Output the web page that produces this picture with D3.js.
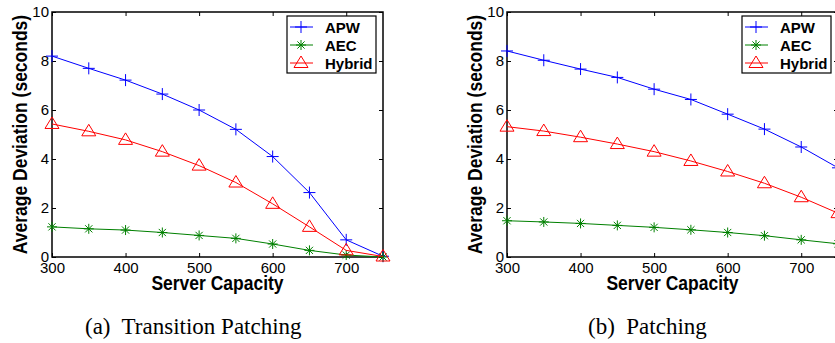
<!DOCTYPE html>
<html>
<head>
<meta charset="utf-8">
<script src="https://cdn.jsdelivr.net/npm/d3@7"></script>
<style>
  body { margin: 0; background: #fff; }
  svg { display: block; }
  .tick text { font-family: "Liberation Sans", Arial, sans-serif; font-size: 15px; fill: #000; }
</style>
</head>
<body>
<svg id="chart" width="835" height="343"></svg>
<script>
const capacity = [300, 350, 400, 450, 500, 550, 600, 650, 700, 750];
const xTicks = [300, 400, 500, 600, 700];
const yTicks = [0, 2, 4, 6, 8, 10];

// (a) transition patching
const apwTransition    = [8.2, 7.7, 7.22, 6.65, 6.0, 5.21, 4.1, 2.63, 0.7, 0.03];
const aecTransition    = [1.23, 1.15, 1.1, 1.0, 0.88, 0.76, 0.53, 0.27, 0.08, 0.0];
const hybridTransition = [5.43, 5.13, 4.78, 4.3, 3.73, 3.04, 2.17, 1.23, 0.27, 0.02];

// (b) patching
const apwPatching    = [8.41, 8.03, 7.67, 7.33, 6.85, 6.43, 5.83, 5.22, 4.49, 3.64];
const aecPatching    = [1.48, 1.43, 1.37, 1.29, 1.21, 1.11, 1.0, 0.87, 0.7, 0.54];
const hybridPatching = [5.32, 5.14, 4.89, 4.61, 4.3, 3.92, 3.49, 3.01, 2.44, 1.79];

const seriesNames = ['APW', 'AEC', 'Hybrid'];
const colors = { APW: '#0000ff', AEC: '#008000', Hybrid: '#ff0000' };
const symbols = { APW: 'plus', AEC: 'star', Hybrid: 'tri' };

const svg = d3.select('#chart');
const font = '"Liberation Sans", Arial, sans-serif';

function markerPath(kind) {
  if (kind === 'plus') return 'M-6,0H6M0,-6V6';
  if (kind === 'star') return 'M-5,0H5M0,-5V5M-3.6,-3.6L3.6,3.6M-3.6,3.6L3.6,-3.6';
  return 'M0,-7L7,4.5H-7Z';
}

function drawPanel(left, series, caption, captionX) {
  const top = 12, bottom = 257, width = 331;
  const x = d3.scaleLinear().domain([300, 750]).range([left, left + width]);
  const y = d3.scaleLinear().domain([0, 10]).range([bottom, top]);
  const g = svg.append('g');

  g.append('g')
    .attr('transform', 'translate(0,' + bottom + ')')
    .call(d3.axisBottom(x).tickValues(xTicks).tickSizeInner(-4).tickSizeOuter(0).tickPadding(5))
    .call(a => a.select('.domain').remove());
  g.append('g')
    .attr('transform', 'translate(0,' + top + ')')
    .call(d3.axisTop(x).tickValues(xTicks).tickSizeInner(-4).tickSizeOuter(0).tickFormat(''))
    .call(a => a.select('.domain').remove());
  g.append('g')
    .attr('transform', 'translate(' + left + ',0)')
    .call(d3.axisLeft(y).tickValues(yTicks).tickSizeInner(-4).tickSizeOuter(0).tickPadding(3))
    .call(a => a.select('.domain').remove());
  g.append('g')
    .attr('transform', 'translate(' + (left + width) + ',0)')
    .call(d3.axisRight(y).tickValues(yTicks).tickSizeInner(-4).tickSizeOuter(0).tickFormat(''))
    .call(a => a.select('.domain').remove());
  g.selectAll('.tick line').attr('stroke', '#000');

  g.append('rect')
    .attr('x', left).attr('y', top)
    .attr('width', width).attr('height', bottom - top)
    .attr('fill', 'none').attr('stroke', '#000').attr('stroke-width', 1.5);

  const line = d3.line().x((d, i) => x(capacity[i])).y(d => y(d));
  seriesNames.forEach(name => {
    const vals = series[name];
    g.append('path').datum(vals)
      .attr('d', line)
      .attr('fill', 'none').attr('stroke', colors[name]).attr('stroke-width', 1);
    g.selectAll(null).data(vals).enter().append('path')
      .attr('transform', (d, i) => 'translate(' + x(capacity[i]) + ',' + y(d) + ')')
      .attr('d', markerPath(symbols[name]))
      .attr('fill', 'none').attr('stroke', colors[name]).attr('stroke-width', 1);
  });

  // legend
  const lx = left + 235, ly = 16;
  g.append('rect').attr('x', lx).attr('y', ly).attr('width', 89).attr('height', 57)
    .attr('fill', '#fff').attr('stroke', '#000').attr('stroke-width', 1.2);
  seriesNames.forEach((name, i) => {
    const ry = ly + 11 + i * 18;
    g.append('line').attr('x1', lx + 3).attr('x2', lx + 26).attr('y1', ry).attr('y2', ry)
      .attr('stroke', colors[name]).attr('stroke-width', 1);
    g.append('path').attr('transform', 'translate(' + (lx + 14) + ',' + ry + ')')
      .attr('d', markerPath(symbols[name]))
      .attr('fill', 'none').attr('stroke', colors[name]).attr('stroke-width', 1);
    g.append('text').attr('x', lx + 38).attr('y', ry + 5.5)
      .attr('font-family', font).attr('font-weight', 'bold').attr('font-size', 15)
      .text(name);
  });

  // axis titles
  g.append('text')
    .attr('transform', 'translate(' + (left + width / 2) + ',290) scale(1,1.12)')
    .attr('text-anchor', 'middle')
    .attr('font-family', font).attr('font-weight', 'bold').attr('font-size', 17.5)
    .text('Server Capacity');
  g.append('text')
    .attr('transform', 'translate(' + (left - 25) + ',' + ((top + bottom) / 2) + ') rotate(-90) scale(1,1.12)')
    .attr('text-anchor', 'middle')
    .attr('font-family', font).attr('font-weight', 'bold').attr('font-size', 17.5)
    .text('Average Deviation (seconds)');

  svg.append('text')
    .attr('x', captionX).attr('y', 334)
    .attr('font-family', '"Liberation Serif", "Times New Roman", serif').attr('font-size', 23)
    .attr('xml:space', 'preserve')
    .style('white-space', 'pre')
    .text(caption);
}

drawPanel(52, { APW: apwTransition, AEC: aecTransition, Hybrid: hybridTransition },
  '(a)  Transition Patching', 85);
drawPanel(507, { APW: apwPatching, AEC: aecPatching, Hybrid: hybridPatching },
  '(b)  Patching', 588);
</script>
</body>
</html>
